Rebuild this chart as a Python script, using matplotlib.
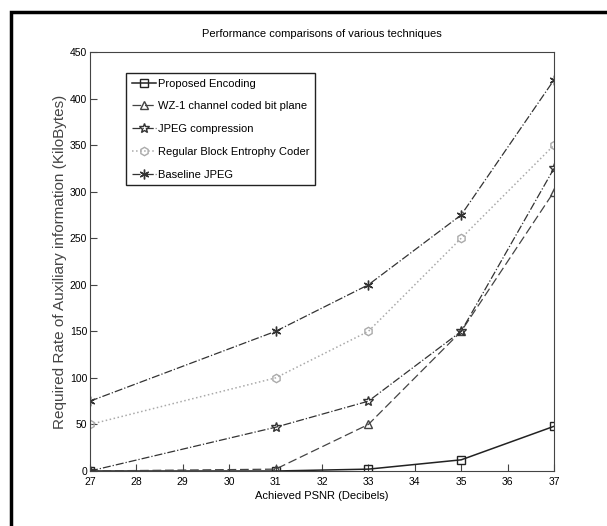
import matplotlib.pyplot as plt
from matplotlib.patches import Rectangle

psnr = [27, 31, 33, 35, 37]
proposed = [0, 0, 2, 12, 48]
wz1 = [0, 2, 50, 150, 300]
jpeg_comp = [0, 47, 75, 150, 325]
regular_block = [50, 100, 150, 250, 350]
baseline_jpeg = [75, 150, 200, 275, 420]

plt.rcParams['font.family'] = ['Liberation Sans', 'DejaVu Sans']

fig = plt.figure(figsize=(6.07, 5.26), dpi=100)
ax = fig.add_axes([90 / 607, 1 - 471 / 526, 464 / 607, 419 / 526])

# outer frame, cut off at right and bottom like the scanned figure
fig.patches.append(Rectangle((11 / 607, -0.1), 1.2, 1.1 - 12 / 526, transform=fig.transFigure,
                             fill=False, edgecolor='black', linewidth=2.5))

ax.plot(psnr, proposed, '-', color='#222222', marker='s', mfc='none', ms=6, lw=1.1,
        label='Proposed Encoding')
ax.plot(psnr, wz1, '--', color='#444444', marker='^', mfc='none', ms=6, lw=0.9,
        dashes=(7, 3), label='WZ-1 channel coded bit plane')
ax.plot(psnr, jpeg_comp, '-.', color='#333333', marker='*', mfc='none', ms=7, lw=0.9,
        label='JPEG compression')
ax.plot(psnr, regular_block, ':', color='#aaaaaa', marker='h', mfc='none', ms=6, lw=1.1,
        label='Regular Block Entrophy Coder')
ax.plot(psnr, baseline_jpeg, '-.', color='#333333', marker=(6, 2, 0), ms=7, lw=0.9,
        label='Baseline JPEG')

ax.set_xlim(27, 37)
ax.set_ylim(0, 450)
ax.set_xticks(range(27, 38))
ax.set_yticks(range(0, 451, 50))
ax.tick_params(direction='in', length=5, labelsize=7.5, color='#444444')
ax.tick_params(axis='x', pad=4)
ax.tick_params(axis='y', pad=2)
for s in ax.spines.values():
    s.set_color('#444444')

ax.set_title('Performance comparisons of various techniques', fontsize=8, pad=11)
ax.set_xlabel('Achieved PSNR (Decibels)', fontsize=8, labelpad=3)
ax.set_ylabel('Required Rate of Auxiliary information (KiloBytes)', fontsize=11,
              labelpad=2, color='#444444')

leg = ax.legend(loc='upper left', bbox_to_anchor=(0.078, 0.95), fontsize=8, fancybox=False,
                framealpha=1, edgecolor='#222222', borderpad=0.5, labelspacing=1.15,
                handlelength=2.2, handletextpad=0.2, borderaxespad=0)
leg.get_frame().set_linewidth(1.0)

fig.savefig('out.png', dpi=100)
